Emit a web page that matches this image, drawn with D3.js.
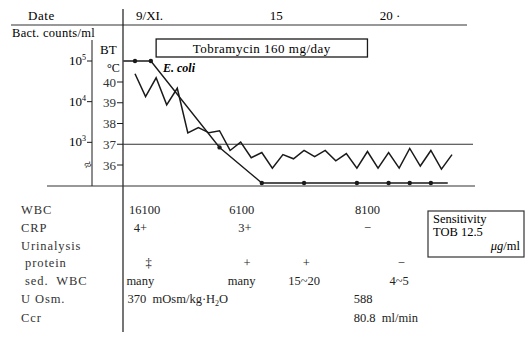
<!DOCTYPE html>
<html>
<head>
<meta charset="utf-8">
<script src="https://cdn.jsdelivr.net/npm/d3@7"></script>
<style>
  body { margin: 0; background: #fff; }
</style>
</head>
<body>
<svg width="530" height="337"></svg>
<script>
// body temperature, read twice a day from 9/XI
const tempValues = [40.4, 39.3, 40.2, 38.9, 39.7, 37.55, 37.8, 37.55, 37.65, 36.7,
  37.1, 36.35, 36.6, 35.85, 36.5, 36.3, 36.7, 36.4, 36.7, 36.2,
  36.55, 35.85, 36.65, 35.85, 36.6, 35.85, 36.8, 35.95, 36.7, 35.8, 36.5];

// bacterial counts (E. coli); 1e2 = negative
const bactDays = [8.45, 9, 9.75, 13, 15, 17, 19.5, 21, 22, 23, 23.8];
const bactCounts = [1e5, 1e5, 1e5, 750, 1e2, 1e2, 1e2, 1e2, 1e2, 1e2, 1e2];
const bactDot = [false, true, true, true, true, true, true, true, true, true, false];

const dateTicks = [9, 15, 20];
const dateLabels = ["9/XI.", "15", "20 ·"];
const tempTicks = [40, 39, 38, 37, 36];
const bactTicks = [1e5, 1e4, 1e3];

const tobraDays = [10, 20];

const rowLabels = ["WBC", "CRP", "Urinalysis", " protein", " sed.  WBC", "U Osm.", "Ccr"];
const wbcRow = [{day: 9.45, t: "16100"}, {day: 14.05, t: "6100"}, {day: 20, t: "8100"}];
const crpRow = [{day: 9.25, t: "4+"}, {day: 14.2, t: "3+"}, {day: 20, t: "−"}];
const proteinRow = [{day: 9.65, t: "‡"}, {day: 14.3, t: "+"}, {day: 17.1, t: "+"}, {day: 21.6, t: "−"}];
const sedRow = [{day: 9.25, t: "many"}, {day: 14.05, t: "many"}, {day: 17, t: "15~20"}, {day: 21.5, t: "4~5"}];
const osmRow = [{day: 8.65, t: "370  mOsm/kg·H", sub: "2", after: "O"}, {day: 19.35, t: "588"}];
const ccrRow = [{day: 19.35, t: "80.8  ml/min"}];

const FONT = "'Liberation Serif', 'Times New Roman', 'DejaVu Serif', serif";
const svg = d3.select("svg").attr("font-family", FONT);

const x = d3.scaleLinear().domain([9, 24]).range([135, 452]);
const yT = d3.scaleLinear().domain([36, 40]).range([165, 82]);
const yB = d3.scaleLog().domain([1e2, 1e5]).range([183, 61]);

const ink = "#1a1a1a";

// header
svg.append("text").attr("x", 28).attr("y", 20).attr("font-size", 13)
  .attr("letter-spacing", 0.6).text("Date");
svg.selectAll(".dlab").data(dateTicks).enter().append("text")
  .attr("x", d => x(d + 0.5) + 4 + (d === 20 ? 8 : 0)).attr("y", 20)
  .attr("text-anchor", "middle").attr("font-size", 13)
  .text((d, i) => dateLabels[i]);
svg.append("line").attr("x1", 11).attr("x2", 467).attr("y1", 25).attr("y2", 25)
  .attr("stroke", "#333").attr("stroke-width", 1.2);

// main divider / BT axis
svg.append("line").attr("x1", 123).attr("x2", 123).attr("y1", 9).attr("y2", 332)
  .attr("stroke", ink).attr("stroke-width", 1.2);

// bact axis
svg.append("text").attr("x", 12).attr("y", 37).attr("font-size", 12.5)
  .attr("letter-spacing", 0.3).text("Bact. counts/ml");
svg.append("line").attr("x1", 92).attr("x2", 92).attr("y1", 40).attr("y2", 186)
  .attr("stroke", ink).attr("stroke-width", 1);
const bt = svg.selectAll(".btick").data(bactTicks).enter().append("g");
bt.append("line").attr("x1", 87).attr("x2", 92)
  .attr("y1", d => yB(d)).attr("y2", d => yB(d)).attr("stroke", ink);
const btText = bt.append("text").attr("x", 86).attr("y", d => yB(d) + 4)
  .attr("text-anchor", "end").attr("font-size", 13);
btText.append("tspan").text("10");
btText.append("tspan").attr("dy", -5).attr("font-size", 8).text(d => Math.log10(d));
svg.append("text").attr("x", 88).attr("y", 169).attr("text-anchor", "middle")
  .attr("font-size", 13).attr("transform", "rotate(-25,88,165)").text("≈");

// BT axis
svg.append("text").attr("x", 100).attr("y", 54).attr("font-size", 13).text("BT");
svg.append("text").attr("x", 107).attr("y", 72).attr("font-size", 12).text("°C");
const tt = svg.selectAll(".ttick").data(tempTicks).enter().append("g");
tt.append("line").attr("x1", 117).attr("x2", 123)
  .attr("y1", d => yT(d)).attr("y2", d => yT(d)).attr("stroke", ink);
tt.append("text").attr("x", 116).attr("y", d => yT(d) + 4.5)
  .attr("text-anchor", "end").attr("font-size", 13).attr("fill", "#333").text(d => d);

// 37 reference line and bottom line
svg.append("line").attr("x1", 123).attr("x2", 473).attr("y1", yT(37)).attr("y2", yT(37))
  .attr("stroke", "#333").attr("stroke-width", 1);
svg.append("line").attr("x1", 47).attr("x2", 475).attr("y1", 186).attr("y2", 186)
  .attr("stroke", "#333").attr("stroke-width", 1.2);

// Tobramycin box
svg.append("rect").attr("x", x(tobraDays[0])).attr("y", 39)
  .attr("width", x(tobraDays[1]) - x(tobraDays[0])).attr("height", 18)
  .attr("fill", "none").attr("stroke", ink).attr("stroke-width", 1.3);
svg.append("text").attr("x", (x(tobraDays[0]) + x(tobraDays[1])) / 2).attr("y", 52.5)
  .attr("text-anchor", "middle").attr("font-size", 13).attr("letter-spacing", 0.5)
  .text("Tobramycin 160 mg/day");

// temperature
const tempLine = d3.line().x((d, i) => x(9 + i / 2)).y(d => yT(d));
svg.append("path").datum(tempValues).attr("d", tempLine)
  .attr("fill", "none").attr("stroke", ink).attr("stroke-width", 1.5)
  .attr("stroke-linejoin", "miter");

// bacteria
const bactLine = d3.line().x(d => x(d[0])).y(d => yB(d[1]));
const bactData = bactDays.map((d, i) => [d, bactCounts[i]]);
svg.append("path").datum(bactData).attr("d", bactLine)
  .attr("fill", "none").attr("stroke", ink).attr("stroke-width", 1.4);
svg.selectAll(".bdot").data(bactData.filter((d, i) => bactDot[i])).enter().append("circle")
  .attr("cx", d => x(d[0])).attr("cy", d => yB(d[1])).attr("r", 2.2).attr("fill", ink);
svg.append("text").attr("x", 163).attr("y", 72).attr("font-size", 12)
  .attr("font-style", "italic").attr("font-weight", "bold").text("E. coli");

// table
const rowY = [214, 232, 250, 267, 285, 303, 322];
svg.selectAll(".rlab").data(rowLabels).enter().append("text")
  .attr("x", 21).attr("y", (d, i) => rowY[i]).attr("font-size", 12.5)
  .attr("letter-spacing", 0.9).attr("fill", "#333")
  .style("white-space", "pre").text(d => d);

function row(data, yy, anchor) {
  const t = svg.append("g").selectAll("text").data(data).enter().append("text")
    .attr("x", d => x(d.day)).attr("y", yy).attr("font-size", 12.5)
    .attr("fill", "#222").attr("text-anchor", anchor).style("white-space", "pre");
  t.append("tspan").text(d => d.t);
  t.filter(d => d.sub).append("tspan").attr("dy", 3).attr("font-size", 8).text(d => d.sub);
  t.filter(d => d.sub).append("tspan").attr("dy", -3).text(d => d.after);
}
row(wbcRow, rowY[0], "middle");
row(crpRow, rowY[1], "middle");
row(proteinRow, rowY[3], "middle");
row(sedRow, rowY[4], "middle");
row(osmRow, rowY[5], "start");
row(ccrRow, rowY[6], "start");

// sensitivity box
svg.append("rect").attr("x", 428).attr("y", 211).attr("width", 96).attr("height", 46)
  .attr("fill", "none").attr("stroke", "#333").attr("stroke-width", 1.2);
svg.append("text").attr("x", 433).attr("y", 223).attr("font-size", 12.5).text("Sensitivity");
svg.append("text").attr("x", 433).attr("y", 236).attr("font-size", 12.5).text("TOB 12.5");
const ug = svg.append("text").attr("x", 520).attr("y", 250).attr("font-size", 12.5)
  .attr("text-anchor", "end");
ug.append("tspan").attr("font-style", "italic").text("μg");
ug.append("tspan").text("/ml");
</script>
</body>
</html>
